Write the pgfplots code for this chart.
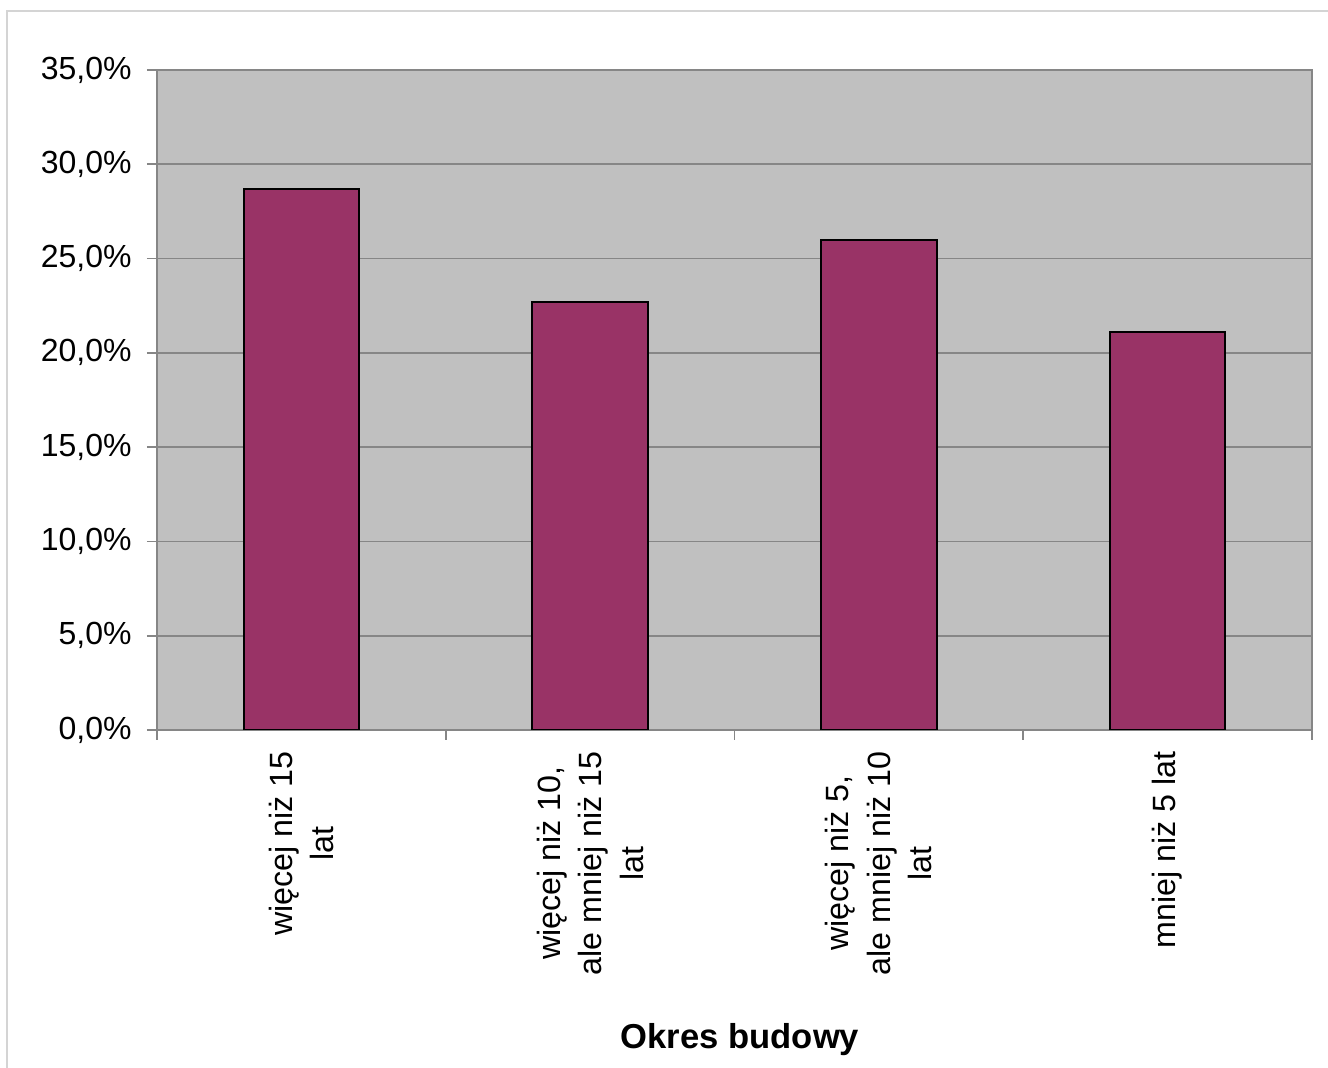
\documentclass[border=0pt]{standalone}
\usepackage{pgfplots}
\pgfplotsset{compat=1.18}
\usepackage{fontspec}
\setmainfont{Liberation Sans}
\definecolor{plotbg}{HTML}{C0C0C0}
\definecolor{barc}{HTML}{993366}
\definecolor{gridc}{HTML}{868686}
\definecolor{framec}{HTML}{D4D4D4}
\begin{document}
\begin{tikzpicture}
\useasboundingbox (0,0) rectangle (664pt,534pt);
\draw[framec, line width=1pt] (3.5pt,-10pt) -- (3.5pt,528.5pt) -- (680pt,528.5pt);
\begin{axis}[
  at={(78.5pt,169pt)}, anchor=south west,
  width=577.5pt, height=330pt, scale only axis,
  xmin=-0.5, xmax=3.5, ymin=0, ymax=35,
  axis background/.style={fill=plotbg},
  axis line style={draw=gridc, line width=1pt},
  ymajorgrids, grid style={draw=gridc, line width=0.8pt},
  tick align=outside, tick pos=left,
  major tick length=5pt, minor tick length=5pt,
  tick style={draw=gridc, line width=0.8pt},
  ytick={0,5,10,15,20,25,30,35},
  yticklabels={{0,0\%},{5,0\%},{10,0\%},{15,0\%},{20,0\%},{25,0\%},{30,0\%},{35,0\%}},
  xtick={0,1,2,3},
  minor xtick={-0.5,0.5,1.5,2.5,3.5},
  major x tick style={draw=none},
  xticklabels={{więcej niż 15\\lat},{więcej niż 10,\\ale mniej niż 15\\lat},{więcej niż 5,\\ale mniej niż 10\\lat},{mniej niż 5 lat}},
  yticklabel style={font=\fontsize{16}{19}\selectfont, inner sep=0pt, xshift=-7.5pt},
  xticklabel style={font=\fontsize{16.1}{20.8}\selectfont, rotate=90, anchor=east, align=center, inner sep=0pt, xshift=-5.5pt},
  xlabel={Okres budowy},
  xlabel style={font=\bfseries\fontsize{17.3}{20}\selectfont, at={(axis description cs:0.5,0)}, anchor=center, yshift=-155pt, xshift=2.75pt},
]
\addplot[ybar, bar width=0.4, fill=barc, draw=black, line width=1pt] coordinates {(0,28.7) (1,22.7) (2,26.0) (3,21.1)};
\end{axis}
\end{tikzpicture}
\end{document}
